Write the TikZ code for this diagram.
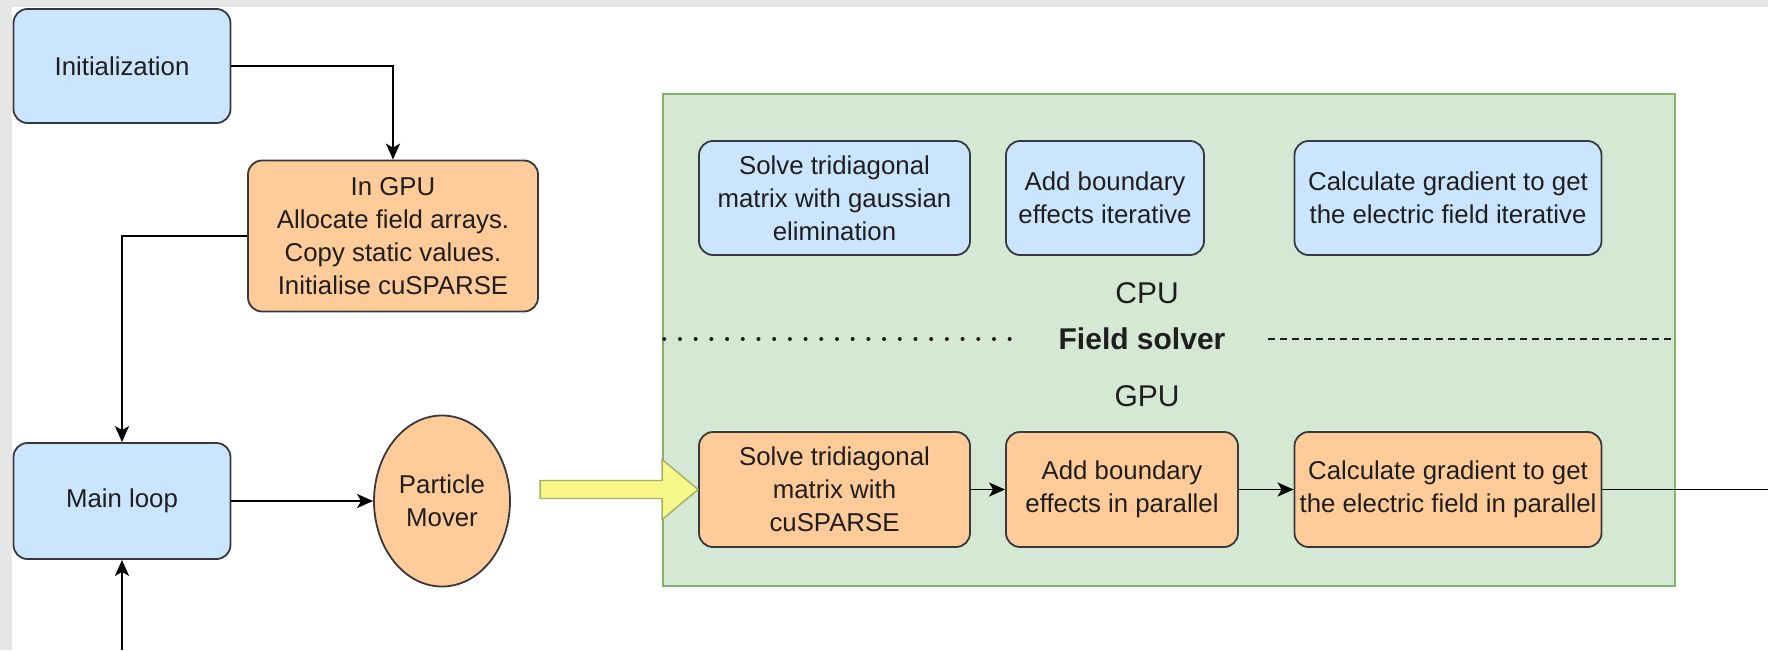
\documentclass[tikz,border=0pt]{standalone}
\usepackage{fontspec}
\setmainfont{Liberation Sans}
\usetikzlibrary{arrows.meta,calc,shapes.geometric}
\definecolor{bluefill}{HTML}{CCE5FF}
\definecolor{orangefill}{HTML}{FFCC99}
\definecolor{greenfill}{HTML}{D5E8D4}
\definecolor{greenline}{HTML}{82B366}
\definecolor{edgecol}{HTML}{36393D}
\definecolor{txtcol}{HTML}{1E1E1E}
\definecolor{framegray}{HTML}{E6E6E6}
\definecolor{yellowfill}{HTML}{F8F88A}
\definecolor{yellowline}{HTML}{A4B060}
\begin{document}
\begin{tikzpicture}[x=1pt,y=-1pt,
  boxtext/.style={font=\fontsize{25.8}{33}\selectfont, text=txtcol, align=center},
  procbox/.style={boxtext, draw=edgecol, line width=1.8pt, rounded corners=14pt, inner sep=0pt},
  cpubox/.style={procbox, fill=bluefill},
  gpubox/.style={procbox, fill=orangefill},
  plainlabel/.style={font=\fontsize{30}{36}\selectfont, text=txtcol},
  flow/.style={draw=black, line width=1.9pt, -{Stealth[length=16pt,width=14pt,inset=4pt]}},
  plainline/.style={draw=black, line width=1.9pt}
]
% page and the grey frame strips
\useasboundingbox (0,0) rectangle (1768,650);
\fill[white] (0,0) rectangle (1768,650);
\fill[framegray] (0,0) rectangle (1768,7);
\fill[framegray] (0,0) rectangle (12,650);

% field solver container
\node[draw=greenline, fill=greenfill, line width=1.5pt, minimum width=1012pt, minimum height=492pt, inner sep=0pt] (solver) at (1169,340) {};

% left column
\node[cpubox, minimum width=217pt, minimum height=114pt] (init) at (122,66) {Initialization};
\node[gpubox, minimum width=290pt, minimum height=151pt] (alloc) at (393,236)
  {In GPU\\Allocate field arrays.\\Copy static values.\\Initialise cuSPARSE};
\node[cpubox, minimum width=217pt, minimum height=116pt] (mainloop) at (122,501) {Main loop};
\node[ellipse, boxtext, draw=edgecol, fill=orangefill, line width=1.8pt, minimum width=136pt, minimum height=171pt, inner sep=0pt] (mover) at (442,501) {Particle\\Mover};

% CPU variant
\node[cpubox, minimum width=271pt, minimum height=114pt] (c1) at (834.5,198)
  {Solve tridiagonal\\matrix with gaussian\\elimination};
\node[cpubox, minimum width=198pt, minimum height=114pt] (c2) at (1105,198)
  {Add boundary\\effects iterative};
\node[cpubox, minimum width=307pt, minimum height=114pt] (c3) at (1448,198)
  {Calculate gradient to get\\the electric field iterative};

% labels and separators
\node[plainlabel] (cpu) at (1147,293) {CPU};
\node[plainlabel, font=\fontsize{30}{36}\selectfont\bfseries] (fieldsolver) at (1142,339) {Field solver};
\node[plainlabel] (gpu) at (1147,396) {GPU};
\coordinate (dotend) at (1013,339);
\coordinate (dashstart) at (1268,339);
\draw[line width=4pt, line cap=round, dash pattern=on 0pt off 15.7pt, txtcol] (solver.west |- dotend) ++(2,0) -- (dotend);
\draw[line width=1.6pt, dash pattern=on 7pt off 5pt, txtcol] (dashstart) -- (solver.east |- dashstart);

% GPU variant
\node[gpubox, minimum width=271pt, minimum height=115pt] (g1) at (834.5,489.5)
  {Solve tridiagonal\\matrix with\\cuSPARSE};
\node[gpubox, minimum width=232pt, minimum height=115pt] (g2) at (1122,489.5)
  {Add boundary\\effects in parallel};
\node[gpubox, minimum width=307pt, minimum height=115pt] (g3) at (1448,489.5)
  {Calculate gradient to get\\the electric field in parallel};

% connectors
\coordinate (loopin) at (122,650);
\coordinate (out) at (1768,489.5);
\draw[flow] (init.east) -| (alloc.north);
\draw[flow] (alloc.west) -| (mainloop.north);
\draw[flow] (loopin) -- (mainloop.south);
\draw[flow] (mainloop.east) -- (mover.west);
\draw[flow] (g1.east) -- (g2.west);
\draw[flow] (g2.east) -- (g3.west);
\draw[plainline] (g3.east) -- (out);

% hand-off from the particle mover to the field solver
\draw[fill=yellowfill, draw=yellowline, line width=1.4pt, line join=miter]
  ($(g1.west)+(-158,-9)$) -- ($(g1.west)+(-36,-9)$) -- ($(g1.west)+(-36,-30)$)
  -- (g1.west) -- ($(g1.west)+(-36,30)$) -- ($(g1.west)+(-36,9)$)
  -- ($(g1.west)+(-158,9)$) -- cycle;
\end{tikzpicture}
\end{document}
